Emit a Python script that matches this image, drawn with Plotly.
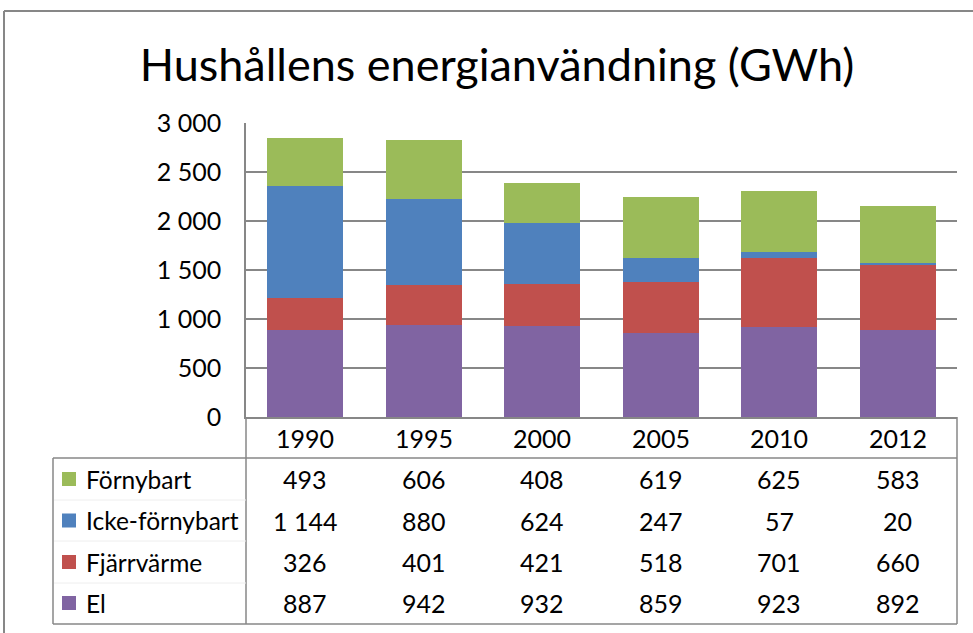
import plotly.graph_objects as go

# data
years = ["1990", "1995", "2000", "2005", "2010", "2012"]
el = [887, 942, 932, 859, 923, 892]
fjarrvarme = [326, 401, 421, 518, 701, 660]
icke_fornybart = [1144, 880, 624, 247, 57, 20]
fornybart = [493, 606, 408, 619, 625, 583]

names = ["Förnybart", "Icke-förnybart", "Fjärrvärme", "El"]   # table order (top to bottom)
values = [fornybart, icke_fornybart, fjarrvarme, el]
colors = ["#9BBB59", "#4F81BD", "#C0504D", "#8064A2"]

W, H = 973, 633
L, R, T, B = 246, 957, 123, 417   # plot area in pixels
FONT = "Lato"
GRAY = "#878787"


def px_x(px):
    return (px - L) / (R - L)


def px_y(py):
    return (B - py) / (B - T)


fig = go.Figure()

# stacked bars, bottom first
for nm, vals, col in reversed(list(zip(names, values, colors))):
    fig.add_trace(go.Bar(x=years, y=vals, name=nm, marker_color=col,
                         marker_line_width=0, showlegend=False))

ann = []
shapes = []
txt = dict(size=25, color="black", family=FONT)

# header row of the data table (years); category axis -> use index
for i, yr in enumerate(years):
    ann.append(dict(x=i, xref="x", y=px_y(438), yref="paper", text=yr,
                    yanchor="middle", showarrow=False, font=txt))

# table rows
row_y = [479, 520.5, 562, 603]
for r, (nm, vals, col) in enumerate(zip(names, values, colors)):
    yc = row_y[r]
    for i, v in enumerate(vals):
        ann.append(dict(x=i, xref="x", y=px_y(yc), yref="paper",
                        text=f"{v:,}".replace(",", " "), showarrow=False,
                        yanchor="middle", font=txt))
    ann.append(dict(x=px_x(84), xref="paper", y=px_y(yc), yref="paper", text=nm,
                    xanchor="left", yanchor="middle", showarrow=False,
                    font=dict(size=24.5, color="black", family=FONT)))
    shapes.append(dict(type="rect", xref="paper", yref="paper",
                       x0=px_x(62), x1=px_x(76), y0=px_y(yc - 7), y1=px_y(yc + 7),
                       fillcolor=col, line_width=0))


def hline(x0, x1, y, color=GRAY, w=1.5):
    shapes.append(dict(type="line", xref="paper", yref="paper",
                       x0=px_x(x0), x1=px_x(x1), y0=px_y(y), y1=px_y(y),
                       line=dict(color=color, width=w)))


def vline(x, y0, y1, color=GRAY, w=1.5):
    shapes.append(dict(type="line", xref="paper", yref="paper",
                       x0=px_x(x), x1=px_x(x), y0=px_y(y0), y1=px_y(y1),
                       line=dict(color=color, width=w)))


# table lines
hline(53, R, 458)
hline(53, R, 624)
vline(53, 458, 624)
vline(L, B, 624)
vline(R, B, 624)
for yy in [500, 541, 583]:
    hline(54, L, yy, color="#EEEEEE", w=1)

# outer chart border
hline(4, 990, 11, w=2)
vline(4, 11, 650, w=2)

fig.update_layout(
    width=W, height=H,
    margin=dict(l=L, r=W - R, t=T, b=H - B),
    paper_bgcolor="white", plot_bgcolor="white",
    barmode="stack", bargap=0.355,
    separators=", ",
    font=dict(family=FONT, color="black"),
    title=dict(text="Hushållens energianvändning (GWh)", x=497 / W, xanchor="center",
               y=1 - 65 / H, yanchor="middle",
               font=dict(size=45, family=FONT, color="black")),
    annotations=ann,
    shapes=shapes,
)
fig.update_xaxes(type="category", showticklabels=False, showline=True,
                 linecolor=GRAY, linewidth=1.5, ticks="", showgrid=False)
fig.update_yaxes(range=[0, 3000], dtick=500, tickformat=",d",
                 showgrid=True, gridcolor=GRAY, gridwidth=1.5,
                 showline=True, linecolor=GRAY, linewidth=1.5,
                 ticks="", ticklabelstandoff=18, zeroline=False,
                 tickfont=dict(size=25, family=FONT, color="black"))

fig.write_html("out.html", config={"displayModeBar": False},
               post_script="document.body.style.margin='0';document.body.style.overflow='hidden';")
